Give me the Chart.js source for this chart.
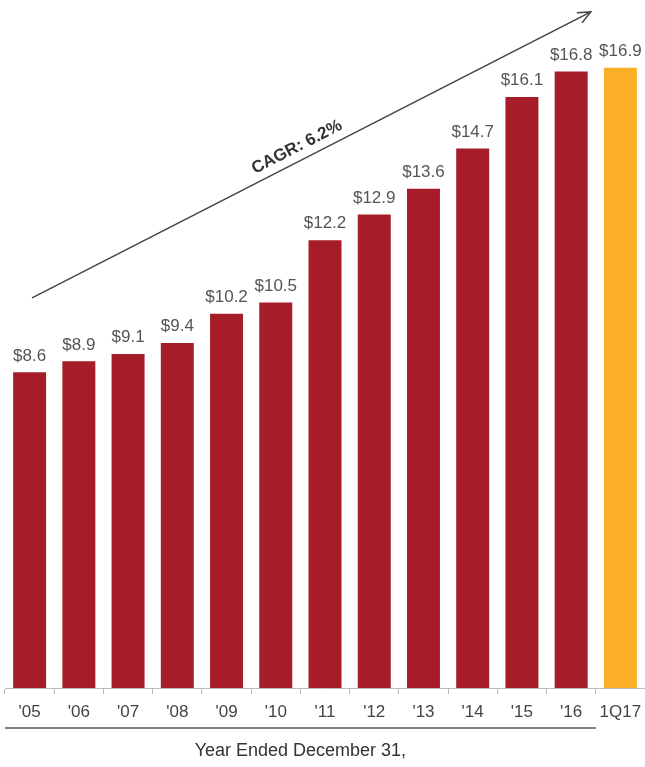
<!DOCTYPE html>
<html>
<head>
<meta charset="utf-8">
<script src="https://cdn.jsdelivr.net/npm/chart.js@4/dist/chart.umd.min.js"></script>
<style>
  html, body { margin: 0; padding: 0; background: #fff; }
  #wrap { width: 645px; height: 767px; position: relative; }
</style>
</head>
<body>
<div id="wrap"><canvas id="chart"></canvas></div>
<script>
const categories = ["'05", "'06", "'07", "'08", "'09", "'10", "'11", "'12", "'13", "'14", "'15", "'16", "1Q17"];
const values = [8.6, 8.9, 9.1, 9.4, 10.2, 10.5, 12.2, 12.9, 13.6, 14.7, 16.1, 16.8, 16.9];
const valueLabels = ["$8.6", "$8.9", "$9.1", "$9.4", "$10.2", "$10.5", "$12.2", "$12.9", "$13.6", "$14.7", "$16.1", "$16.8", "$16.9"];
const barColors = values.map((v, i) => i === values.length - 1 ? '#FBAE27' : '#A71C29');
const cagrText = 'CAGR: 6.2%';
const axisTitle = 'Year Ended December 31,';
// arrow ends as (category index, value)
const arrowFrom = [0.05, 10.63];
const arrowTo = [11.4, 18.42];

const FONT = '"Liberation Sans", Arial, sans-serif';

const overlay = {
    id: 'overlay',
    afterDatasetsDraw(chart) {
        const ctx = chart.ctx;
        const x = chart.scales.x;
        const y = chart.scales.y;
        const meta = chart.getDatasetMeta(0);

        // value labels above the bars
        ctx.save();
        ctx.font = '17px ' + FONT;
        ctx.fillStyle = '#555';
        ctx.textAlign = 'center';
        ctx.textBaseline = 'bottom';
        meta.data.forEach((bar, i) => {
            ctx.fillText(valueLabels[i], bar.x, bar.y - 8);
        });
        ctx.restore();

        // CAGR arrow
        const x1 = x.getPixelForValue(arrowFrom[0]);
        const y1 = y.getPixelForValue(arrowFrom[1]);
        const x2 = x.getPixelForValue(arrowTo[0]);
        const y2 = y.getPixelForValue(arrowTo[1]);
        const ang = Math.atan2(y2 - y1, x2 - x1);
        ctx.save();
        ctx.strokeStyle = '#444';
        ctx.lineWidth = 1.5;
        ctx.beginPath();
        ctx.moveTo(x1, y1);
        ctx.lineTo(x2, y2);
        ctx.stroke();
        ctx.beginPath();
        const h = 14;
        ctx.moveTo(x2 + h * Math.cos(ang + Math.PI - 0.42), y2 + h * Math.sin(ang + Math.PI - 0.42));
        ctx.lineTo(x2, y2);
        ctx.lineTo(x2 + h * Math.cos(ang + Math.PI + 0.42), y2 + h * Math.sin(ang + Math.PI + 0.42));
        ctx.stroke();

        // CAGR label, along the arrow
        const t = 0.485;
        const mx = x1 + (x2 - x1) * t;
        const my = y1 + (y2 - y1) * t;
        ctx.translate(mx, my);
        ctx.rotate(ang);
        ctx.font = 'bold 17px ' + FONT;
        ctx.fillStyle = '#333';
        ctx.textAlign = 'center';
        ctx.textBaseline = 'bottom';
        ctx.fillText(cagrText, 0, -5);
        ctx.restore();

        // underline below the yearly categories and its title
        const left = chart.chartArea.left;
        const right = x.getPixelForValue(11) + (x.getPixelForValue(12) - x.getPixelForValue(11)) / 2;
        const lineY = chart.chartArea.bottom + 40;
        ctx.save();
        ctx.strokeStyle = '#555';
        ctx.lineWidth = 1.5;
        ctx.beginPath();
        ctx.moveTo(left, lineY);
        ctx.lineTo(right, lineY);
        ctx.stroke();
        ctx.font = '18px ' + FONT;
        ctx.fillStyle = '#333';
        ctx.textAlign = 'center';
        ctx.textBaseline = 'middle';
        ctx.fillText(axisTitle, (left + right) / 2, lineY + 23);
        ctx.restore();
    }
};

new Chart(document.getElementById('chart'), {
    type: 'bar',
    data: {
        labels: categories,
        datasets: [{
            data: values,
            backgroundColor: barColors,
            categoryPercentage: 1,
            barPercentage: 0.67
        }]
    },
    options: {
        responsive: true,
        maintainAspectRatio: false,
        animation: false,
        layout: { padding: { left: 5, right: 0, top: 20, bottom: 0 } },
        plugins: { legend: { display: false }, tooltip: { enabled: false } },
        scales: {
            x: {
                grid: { display: true, drawOnChartArea: false, drawTicks: true, tickLength: 6, color: '#bbb' },
                border: { display: true, color: '#bbb' },
                ticks: { font: { size: 17, family: FONT, lineHeight: 1.8 }, color: '#444', padding: 3,
                         maxRotation: 0, minRotation: 0, autoSkip: false },
                afterFit(scale) { scale.height = 79; }
            },
            y: {
                display: false,
                min: 0,
                max: 18.2
            }
        }
    },
    plugins: [overlay]
});
</script>
</body>
</html>
